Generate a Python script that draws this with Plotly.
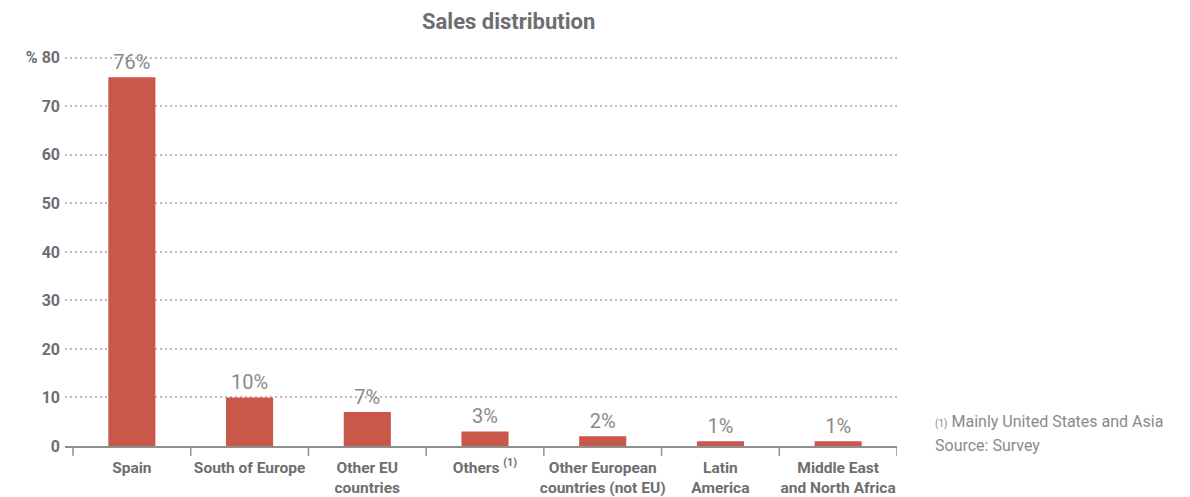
import plotly.graph_objects as go

categories = ["Spain", "South of Europe", "Other EU<br>countries", "Others <sup>(1)</sup>",
              "Other European<br>countries (not EU)", "Latin<br>America", "Middle East<br>and North Africa"]
values = [76, 10, 7, 3, 2, 1, 1]
value_labels = ["76%", "10%", "7%", "3%", "2%", "1%", "1%"]
y_ticks = [0, 10, 20, 30, 40, 50, 60, 70, 80]
y_ticktext = ["0", "10", "20", "30", "40", "50", "60", "70", "% 80"]

FONT = "Roboto"
DARK = "#6e6e70"

fig = go.Figure()
fig.add_trace(go.Bar(
    x=list(range(len(categories))), y=values,
    marker=dict(color="#c9574a", line=dict(width=0)),
    width=0.4,
    text=value_labels, textposition="outside",
    textfont=dict(family=FONT, size=20, color="#8a8a8c"),
    cliponaxis=False,
))

fig.update_layout(
    width=1190, height=497,
    margin=dict(l=65, r=293, t=53, b=51, autoexpand=False),
    plot_bgcolor="white", paper_bgcolor="white",
    showlegend=False,
    bargap=0.6,
    xaxis=dict(
        tickmode="array", tickvals=list(range(len(categories))), ticktext=categories,
        range=[-0.568, 6.5],
        showgrid=False, zeroline=False,
        showline=True, linecolor="#8f8f8f", linewidth=2,
        ticks="", automargin=False,
        tickfont=dict(family=FONT, size=15.5, color=DARK, weight="bold"),
        ticklabelstandoff=6,
    ),
    yaxis=dict(
        range=[0, 81], tickvals=y_ticks, ticktext=y_ticktext,
        showgrid=True, gridcolor="#c9b5b3", gridwidth=2, griddash="2px,3px",
        zeroline=False, showline=False, ticks="", automargin=False,
        tickfont=dict(family=FONT, size=16, color=DARK, weight="bold"),
        ticklabelstandoff=4,
    ),
    font=dict(family=FONT),
)

# boundary ticks below the axis
for b in [i - 0.5 for i in range(len(categories) + 1)]:
    fig.add_shape(type="line", xref="x", yref="paper", x0=b, x1=b, y0=0, y1=-0.025,
                  line=dict(color="#8f8f8f", width=1.5))

PH = 497 - 53 - 51
fig.add_annotation(xref="paper", yref="paper", x=(508 - 65) / 832, y=1 + (53 - 22) / PH,
                   text="<b>Sales distribution</b>", showarrow=False,
                   font=dict(family=FONT, size=22, color=DARK), xanchor="center", yanchor="middle")

fig.add_annotation(xref="paper", yref="paper", x=(933 - 65) / 832, y=(446 - 421) / PH,
                   text="<span style='font-size:10px'>(1)</span> Mainly United States and Asia",
                   showarrow=False, align="left", xanchor="left", yanchor="middle",
                   font=dict(family=FONT, size=16, color="#8a8a8c"))
fig.add_annotation(xref="paper", yref="paper", x=(933 - 65) / 832, y=(446 - 445) / PH,
                   text="Source: Survey",
                   showarrow=False, align="left", xanchor="left", yanchor="middle",
                   font=dict(family=FONT, size=16, color="#8a8a8c"))

fig.write_html("out.html")
